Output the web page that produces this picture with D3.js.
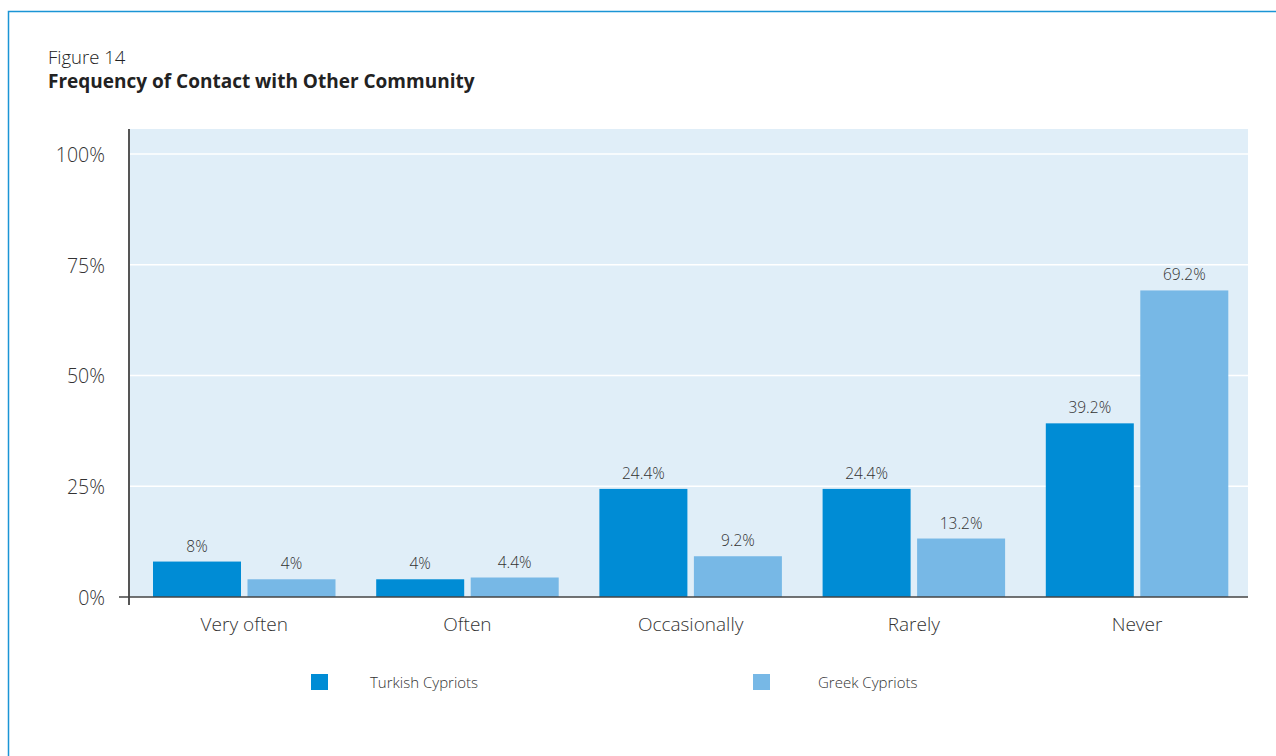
<!DOCTYPE html>
<html>
<head>
<meta charset="utf-8">
<script src="https://cdn.jsdelivr.net/npm/d3@7"></script>
<style>
  html, body { margin: 0; padding: 0; background: #fff; }
  svg { display: block; font-family: "Open Sans", "Noto Sans", sans-serif; }
</style>
</head>
<body>
<svg id="chart" width="1276" height="756"></svg>
<script>
// Survey answers: how often respondents have contact with the other community
const categories = ["Very often", "Often", "Occasionally", "Rarely", "Never"];
const seriesNames = ["Turkish Cypriots", "Greek Cypriots"];
const turkishCypriots = [8, 4, 24.4, 24.4, 39.2];
const greekCypriots = [4, 4.4, 9.2, 13.2, 69.2];
const yTicks = [0, 25, 50, 75, 100];
const colors = ["#008cd5", "#77b8e6"];

const svg = d3.select("#chart");

// Outer frame
svg.append("path")
  .attr("d", "M8.5,756 L8.5,11.5 L1276,11.5")
  .attr("fill", "none")
  .attr("stroke", "#1b95d5")
  .attr("stroke-width", 1.5);

// Heading
svg.append("text").attr("x", 48).attr("y", 64)
  .attr("font-size", 18.5).attr("font-weight", 300).attr("fill", "#222")
  .text("Figure 14");
svg.append("text").attr("x", 48).attr("y", 88)
  .attr("font-size", 19).attr("font-weight", 700).attr("fill", "#222")
  .text("Frequency of Contact with Other Community");

const plot = { left: 129, right: 1248, top: 129, bottom: 597 };

const x = d3.scaleBand().domain(categories).range([plot.left, 1245]);
const y = d3.scaleLinear().domain([0, 100]).range([plot.bottom, 154]);

// Plot background
svg.append("rect")
  .attr("x", plot.left).attr("y", plot.top)
  .attr("width", plot.right - plot.left).attr("height", plot.bottom - plot.top)
  .attr("fill", "#e0eef8");

// Gridlines
svg.append("g").selectAll("line").data(yTicks.filter(d => d > 0)).join("line")
  .attr("x1", plot.left).attr("x2", plot.right)
  .attr("y1", d => y(d)).attr("y2", d => y(d))
  .attr("stroke", "#fff").attr("stroke-width", 1.5);

// Bars
const barW = 88;
const offsets = [24, 118.5];
const groupCenter = (offsets[0] + offsets[1] + barW) / 2;
const seriesValues = [turkishCypriots, greekCypriots];
const barData = [];
seriesValues.forEach((vals, si) => {
  vals.forEach((v, ci) => barData.push({ cat: categories[ci], s: si, v: v }));
});

svg.append("g").selectAll("rect").data(barData).join("rect")
  .attr("x", d => x(d.cat) + offsets[d.s])
  .attr("y", d => y(d.v))
  .attr("width", barW)
  .attr("height", d => y(0) - y(d.v))
  .attr("fill", d => colors[d.s]);

// Value labels
svg.append("g").selectAll("text").data(barData).join("text")
  .attr("x", d => x(d.cat) + offsets[d.s] + barW / 2)
  .attr("y", d => y(d.v) - 10)
  .attr("text-anchor", "middle")
  .attr("font-size", 15.5).attr("font-weight", 300).attr("fill", "#333")
  .text(d => d.v + "%");

// Y axis
const yAxis = svg.append("g")
  .attr("transform", `translate(${plot.left},1)`)
  .call(d3.axisLeft(y).tickValues(yTicks).tickSize(0).tickPadding(24)
    .tickFormat(d => d + "%"));
yAxis.select(".domain").remove();
yAxis.selectAll("text")
  .attr("font-size", 19.5).attr("font-weight", 300).attr("fill", "#333")
  .attr("font-family", "'Open Sans', 'Noto Sans', sans-serif");

svg.append("line")
  .attr("x1", plot.left).attr("x2", plot.left)
  .attr("y1", plot.top).attr("y2", plot.bottom + 8)
  .attr("stroke", "#555").attr("stroke-width", 2);
svg.append("line")
  .attr("x1", plot.left - 10).attr("x2", plot.right)
  .attr("y1", plot.bottom).attr("y2", plot.bottom)
  .attr("stroke", "#444").attr("stroke-width", 1.5);

// X axis labels, centred under each pair of bars
const xAxis = svg.append("g")
  .attr("transform", `translate(${groupCenter - x.bandwidth() / 2},${plot.bottom})`)
  .call(d3.axisBottom(x).tickSize(0).tickPadding(21));
xAxis.select(".domain").remove();
xAxis.selectAll("text")
  .attr("font-size", 19).attr("font-weight", 300).attr("fill", "#333")
  .attr("font-family", "'Open Sans', 'Noto Sans', sans-serif");

// Legend
const legendX = [311, 753];
const legend = svg.append("g").selectAll("g").data(seriesNames).join("g")
  .attr("transform", (d, i) => `translate(${legendX[i]},674)`);
legend.append("rect").attr("width", 17).attr("height", 16)
  .attr("fill", (d, i) => colors[i]);
legend.append("text").attr("x", (d, i) => i === 0 ? 59 : 65).attr("y", 14)
  .attr("font-size", 15).attr("font-weight", 300).attr("fill", "#333")
  .text(d => d);
</script>
</body>
</html>
